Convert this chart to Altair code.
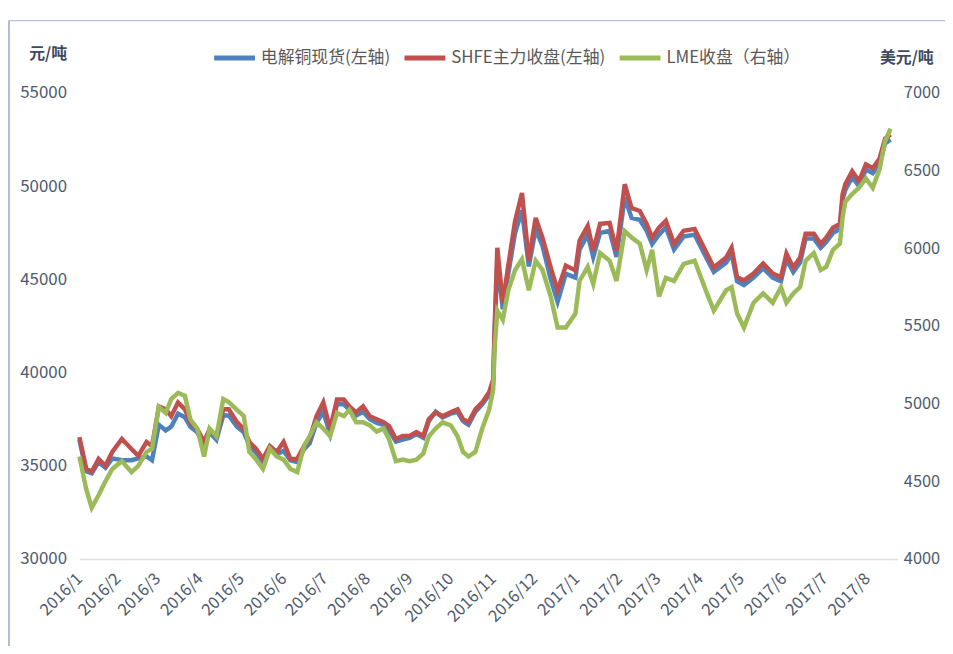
import altair as alt
import pandas as pd

dates = [
    "2016-01-04","2016-01-09","2016-01-13","2016-01-18","2016-01-23","2016-01-28",
    "2016-02-04","2016-02-11","2016-02-16","2016-02-22","2016-02-26",
    "2016-03-02","2016-03-07","2016-03-11","2016-03-16","2016-03-21","2016-03-25","2016-03-30",
    "2016-04-04","2016-04-08","2016-04-13","2016-04-18","2016-04-22","2016-04-28",
    "2016-05-03","2016-05-07","2016-05-12","2016-05-17","2016-05-22","2016-05-27",
    "2016-06-01","2016-06-06","2016-06-11","2016-06-16","2016-06-20","2016-06-25","2016-06-30",
    "2016-07-05","2016-07-10","2016-07-15","2016-07-19","2016-07-24","2016-07-29",
    "2016-08-03","2016-08-08","2016-08-13","2016-08-17","2016-08-22","2016-08-27",
    "2016-09-01","2016-09-06","2016-09-11","2016-09-15","2016-09-20","2016-09-25",
    "2016-10-01","2016-10-06","2016-10-10","2016-10-14","2016-10-19","2016-10-24","2016-10-29",
    "2016-11-01","2016-11-02","2016-11-04","2016-11-08","2016-11-12","2016-11-17","2016-11-22","2016-11-27",
    "2016-12-02","2016-12-07","2016-12-13","2016-12-18","2016-12-24","2016-12-31",
    "2017-01-03","2017-01-09","2017-01-13","2017-01-18","2017-01-25","2017-01-30",
    "2017-02-05","2017-02-10","2017-02-16","2017-02-21","2017-02-25",
    "2017-03-02","2017-03-07","2017-03-13","2017-03-20","2017-03-28",
    "2017-04-06","2017-04-11","2017-04-20","2017-04-24","2017-04-28",
    "2017-05-03","2017-05-10","2017-05-17","2017-05-24","2017-05-30",
    "2017-06-03","2017-06-08","2017-06-13","2017-06-17","2017-06-23","2017-06-28",
    "2017-07-02","2017-07-07","2017-07-12","2017-07-14","2017-07-16","2017-07-21","2017-07-26","2017-07-31",
    "2017-08-05","2017-08-10","2017-08-14","2017-08-18",
]

# SHFE 主力收盘 (元/吨)
shfe = [
    36540,34840,34680,35370,35000,35740,
    36440,35900,35530,36280,36060,
    38190,38030,37660,38400,38030,37340,36970,
    36280,36970,36600,38030,38030,37340,
    36970,36280,35900,35370,36060,35740,
    36280,35370,35370,36060,36440,37660,38400,
    36970,38560,38560,38190,37870,38190,
    37660,37500,37340,37130,36440,36600,
    36600,36810,36600,37500,37870,37660,
    37870,38030,37500,37340,38030,38400,38940,
    39630,42290,46700,43720,45740,48140,49630,46010,
    48300,47230,45640,44410,45740,45480,
    47070,47870,46540,47980,48030,46540,
    50110,48830,48670,47980,47230,
    47770,48140,46910,47610,47710,
    46380,45640,46170,46700,45110,
    44950,45320,45850,45320,45110,
    46380,45640,46170,47450,47450,46910,
    47230,47770,47980,49570,50110,50800,50270,51170,
    50960,51490,52550,52770,
]

# 电解铜现货 (元/吨)
spot = [
    36400,34700,34600,35200,34900,35400,
    35300,35300,35400,35500,35300,
    37200,36900,37100,37800,37600,37100,36800,
    36100,36800,36400,37700,37700,37100,
    36800,36100,35700,35200,35900,35600,
    35800,35300,35200,35900,36200,37300,37900,
    36700,38300,38300,38000,37700,37900,
    37500,37300,37200,36900,36300,36400,
    36500,36700,36500,37400,37900,37600,
    37800,37900,37400,37200,37900,38300,38800,
    39400,42000,46000,43400,45300,47500,48700,45700,
    47700,46800,45000,43800,45300,45100,
    46600,47400,46200,47500,47600,46200,
    49400,48300,48200,47600,46900,
    47400,47800,46600,47300,47400,
    46100,45400,45900,46400,44900,
    44700,45100,45600,45100,44900,
    46100,45400,45900,47200,47200,46700,
    47000,47500,47700,49300,49800,50500,50000,50900,
    50700,51200,52300,52500,
]

# LME 收盘 (美元/吨)
lme = [
    4660,4450,4330,4410,4500,4580,
    4630,4560,4600,4690,4710,
    4980,4940,5030,5070,5050,4900,4840,
    4660,4840,4790,5030,5010,4960,
    4920,4690,4640,4580,4710,4660,
    4640,4580,4560,4730,4790,4880,4840,
    4790,4940,4920,4960,4880,4880,
    4860,4820,4840,4770,4630,4640,
    4630,4640,4680,4790,4840,4880,
    4860,4790,4690,4660,4690,4840,4960,
    5090,5350,5600,5540,5730,5860,5930,5730,
    5920,5860,5690,5490,5490,5580,
    5790,5880,5770,5970,5920,5790,
    6110,6070,6030,5860,5990,
    5690,5810,5790,5900,5920,
    5710,5600,5730,5750,5580,
    5490,5650,5710,5650,5750,
    5650,5710,5750,5920,5970,5860,
    5880,5990,6030,6200,6300,6350,6390,6450,
    6390,6510,6690,6770,
]

series_names = ["电解铜现货(左轴)", "SHFE主力收盘(左轴)", "LME收盘（右轴）"]
series_colors = ["#4F81BD", "#C0504D", "#9BBB59"]

left_ticks = [30000, 35000, 40000, 45000, 50000, 55000]
right_ticks = [4000, 4500, 5000, 5500, 6000, 6500, 7000]
month_ticks = [(2016, 1, 4)] + [(2016, m, 1) for m in range(2, 13)] + [(2017, m, 1) for m in range(1, 9)]

df_spot = pd.DataFrame({"date": dates, "value": spot, "series": series_names[0]})
df_shfe = pd.DataFrame({"date": dates, "value": shfe, "series": series_names[1]})
df_lme = pd.DataFrame({"date": dates, "value": lme, "series": series_names[2]})

FONT = "Noto Sans CJK SC"
LABEL_COLOR = "#4E5A6E"
TITLE_COLOR = "#3E4A62"

x_enc = alt.X(
    "date:T",
    scale=alt.Scale(
        type="utc",
        domain=[alt.DateTime(year=2016, month=1, date=4, utc=True),
                alt.DateTime(year=2017, month=8, date=23, utc=True)],
    ),
    axis=alt.Axis(
        title=None,
        values=[alt.DateTime(year=y, month=m, date=d, utc=True) for (y, m, d) in month_ticks],
        format="%Y/%-m",
        labelAngle=-45,
        labelAlign="right",
        labelBaseline="middle",
        labelPadding=17,
        labelFont=FONT,
        labelFontSize=16.5,
        labelColor=LABEL_COLOR,
        ticks=False,
        grid=False,
        domain=True,
        domainColor="#D9DEE6",
        domainWidth=1.5,
        labelOverlap=False,
    ),
)

color_enc = alt.Color(
    "series:N",
    scale=alt.Scale(domain=series_names, range=series_colors),
    legend=alt.Legend(
        orient="none",
        legendX=133,
        legendY=-59,
        direction="horizontal",
        title=None,
        symbolType="stroke",
        symbolStrokeWidth=5,
        symbolSize=1700,
        labelFont=FONT,
        labelFontSize=17,
        labelColor="#595959",
        labelLimit=400,
        labelOffset=3,
        columnPadding=3,
    ),
)

left_scale = alt.Scale(domain=[30000, 55000], nice=False, zero=False)
right_scale = alt.Scale(domain=[4000, 7000], nice=False, zero=False)

spot_line = alt.Chart(df_spot).mark_line(strokeWidth=4.5).encode(
    x=x_enc,
    y=alt.Y(
        "value:Q",
        scale=left_scale,
        axis=alt.Axis(
            orient="left",
            values=left_ticks,
            format="d",
            title="元/吨",
            titleAngle=0,
            titleX=-32,
            titleY=-40,
            titleAlign="center",
            titleBaseline="middle",
            titleFont=FONT,
            titleFontSize=16,
            titleFontWeight="bold",
            titleColor=TITLE_COLOR,
            labelFont=FONT,
            labelFontSize=17,
            labelColor=LABEL_COLOR,
            labelPadding=13,
            ticks=False,
            domain=False,
            grid=False,
        ),
    ),
    color=color_enc,
)

shfe_line = alt.Chart(df_shfe).mark_line(strokeWidth=4.5).encode(
    x=x_enc,
    y=alt.Y("value:Q", scale=left_scale, axis=None),
    color=color_enc,
)

lme_line = alt.Chart(df_lme).mark_line(strokeWidth=4.5).encode(
    x=x_enc,
    y=alt.Y(
        "value:Q",
        scale=right_scale,
        axis=alt.Axis(
            orient="right",
            values=right_ticks,
            format="d",
            title="美元/吨",
            titleAngle=0,
            titleX=9,
            titleY=-36,
            titleAlign="center",
            titleBaseline="middle",
            titleFont=FONT,
            titleFontSize=16,
            titleFontWeight="bold",
            titleColor=TITLE_COLOR,
            labelFont=FONT,
            labelFontSize=16.5,
            labelColor=LABEL_COLOR,
            labelPadding=6,
            labelAlign="left",
            ticks=False,
            domain=False,
            grid=False,
        ),
    ),
    color=color_enc,
)

frame_src = alt.Data(values=[{"k": 1}])
frame_left = alt.Chart(frame_src).mark_rule(color="#93A8C6", strokeWidth=1.5).encode(
    x=alt.value(-71), y=alt.value(-73), y2=alt.value(560)
)
frame_top = alt.Chart(frame_src).mark_rule(color="#B4C4DA", strokeWidth=1.2).encode(
    x=alt.value(-71), x2=alt.value(900), y=alt.value(-73)
)

chart = (
    alt.layer(spot_line, shfe_line, lme_line, frame_left, frame_top)
    .resolve_scale(y="independent")
    .properties(
        width=825,
        height=470,
        autosize=alt.AutoSizeParams(type="none"),
        padding={"left": 72, "top": 83, "right": 48, "bottom": 85},
        background="white",
    )
    .configure_view(stroke=None)
)

chart.save("out.html", embed_options={"renderer": "svg", "actions": False})
